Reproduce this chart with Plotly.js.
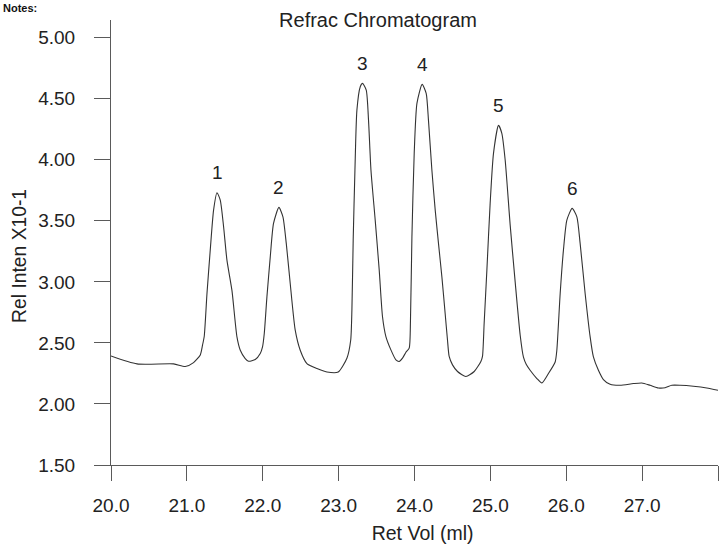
<!DOCTYPE html>
<html>
<head>
<meta charset="utf-8">
<script src="https://cdn.plot.ly/plotly-3.0.1.min.js"></script>
<style>html,body{margin:0;padding:0;background:#fff;}#chart{width:728px;height:546px;}</style>
</head>
<body>
<div id="chart"></div>
<script>
// Retention volume (ml) and relative intensity (x10-1)
const retVol = [20.000,20.343,20.825,20.979,21.088,21.177,21.207,21.229,21.265,21.308,21.352,21.397,21.440,21.484,21.528,21.594,21.660,21.704,21.769,21.813,21.901,21.967,21.997,22.020,22.055,22.099,22.142,22.213,22.266,22.310,22.362,22.428,22.494,22.582,22.714,22.846,22.995,23.109,23.159,23.175,23.192,23.215,23.241,23.285,23.315,23.364,23.394,23.426,23.482,23.535,23.578,23.623,23.689,23.755,23.798,23.842,23.887,23.930,23.947,23.966,23.996,24.032,24.101,24.154,24.184,24.229,24.273,24.316,24.361,24.404,24.435,24.457,24.501,24.567,24.677,24.787,24.875,24.896,24.918,24.954,24.997,25.041,25.107,25.151,25.195,25.261,25.327,25.393,25.436,25.472,25.524,25.613,25.679,25.765,25.854,25.876,25.920,25.963,26.008,26.078,26.140,26.183,26.249,26.315,26.358,26.424,26.490,26.578,26.710,26.885,26.996,27.105,27.215,27.303,27.391,27.501,27.676,27.852,28.000];
const relInten = [2.393,2.328,2.328,2.307,2.339,2.402,2.484,2.555,2.905,3.260,3.588,3.730,3.670,3.451,3.178,2.930,2.549,2.440,2.372,2.350,2.364,2.413,2.467,2.577,2.877,3.205,3.479,3.610,3.533,3.315,2.987,2.604,2.440,2.331,2.290,2.262,2.262,2.375,2.522,2.768,3.342,3.916,4.407,4.598,4.626,4.571,4.325,3.916,3.506,3.096,2.716,2.552,2.443,2.361,2.348,2.375,2.424,2.457,2.686,3.369,4.052,4.462,4.618,4.544,4.325,3.916,3.588,3.315,3.041,2.741,2.522,2.389,2.320,2.266,2.225,2.266,2.348,2.389,2.661,3.096,3.643,4.052,4.282,4.216,3.998,3.465,2.998,2.563,2.383,2.325,2.276,2.208,2.172,2.249,2.344,2.440,2.905,3.260,3.506,3.602,3.533,3.315,2.905,2.549,2.385,2.276,2.200,2.161,2.153,2.167,2.172,2.153,2.131,2.133,2.153,2.153,2.145,2.131,2.112];

// Peak labels and apex positions
const peakLabels = ["1","2","3","4","5","6"];
const peakX = [21.397,22.213,23.315,24.101,25.107,26.078];
const peakY = [3.730,3.610,4.626,4.618,4.282,3.602];

// Tick values and labels
const xTickVals = [20,21,22,23,24,25,26,27,28];
const xTickText = ["20.0","21.0","22.0","23.0","24.0","25.0","26.0","27.0",""];
const yTickVals = [1.5,2.0,2.5,3.0,3.5,4.0,4.5,5.0];
const yTickText = ["1.50","2.00","2.50","3.00","3.50","4.00","4.50","5.00"];

const FONT = "'Liberation Sans', Arial, Helvetica, sans-serif";
const TXT = "#222222";
const AX = "#5a5a5a";
const NB = "\u00A0";
const ZW = "\u200B";

const trace = {
  x: retVol, y: relInten, type: "scatter", mode: "lines",
  line: {color: "#333333", width: 1.1, shape: "spline", smoothing: 0.6},
  hoverinfo: "x+y", showlegend: false
};

const annotations = peakLabels.map((t, i) => ({
  x: peakX[i], y: peakY[i], xref: "x", yref: "y", text: t, showarrow: false,
  xanchor: "center", yanchor: "middle", yshift: 20,
  font: {family: FONT, size: 19, color: TXT}
}));
annotations.push({
  x: 0, y: 1, xref: "paper", yref: "paper", text: "<b>Notes:</b>", showarrow: false,
  xanchor: "left", yanchor: "top", xshift: -110, yshift: 20,
  font: {family: FONT, size: 11, color: "#111"}
});

const layout = {
  width: 728, height: 546,
  margin: {l: 111, r: 10, t: 20, b: 81, pad: 0},
  paper_bgcolor: "#ffffff", plot_bgcolor: "#ffffff",
  font: {family: FONT, size: 19, color: TXT},
  title: {text: "Refrac Chromatogram", x: 378/728, xanchor: "center",
          yref: "container", y: 1 - 20/546, yanchor: "middle",
          font: {family: FONT, size: 20, color: TXT}},
  xaxis: {
    range: [20, 28], tickmode: "array", tickvals: xTickVals, ticktext: xTickText,
    ticks: "outside", ticklen: 15, tickwidth: 1, tickcolor: AX,
    showline: true, linecolor: AX, linewidth: 1, showgrid: false, zeroline: false,
    tickfont: {family: FONT, size: 19, color: TXT}, ticklabelstandoff: 8,
    title: {text: ZW + NB + NB + NB + "Ret Vol (ml)", font: {family: FONT, size: 19.5, color: TXT}, standoff: 11}
  },
  yaxis: {
    range: [1.5, 5.145], tickmode: "array", tickvals: yTickVals, ticktext: yTickText,
    ticks: "outside", ticklen: 16, tickwidth: 1, tickcolor: AX,
    showline: true, linecolor: AX, linewidth: 1, showgrid: false, zeroline: false,
    tickfont: {family: FONT, size: 19, color: TXT}, ticklabelstandoff: 15,
    title: {text: "Rel Inten X10-1" + NB + NB + NB + NB + NB + ZW, font: {family: FONT, size: 19.3, color: TXT}, standoff: 6}
  },
  annotations: annotations
};

Plotly.newPlot("chart", [trace], layout, {displayModeBar: false, responsive: false});
</script>
</body>
</html>
